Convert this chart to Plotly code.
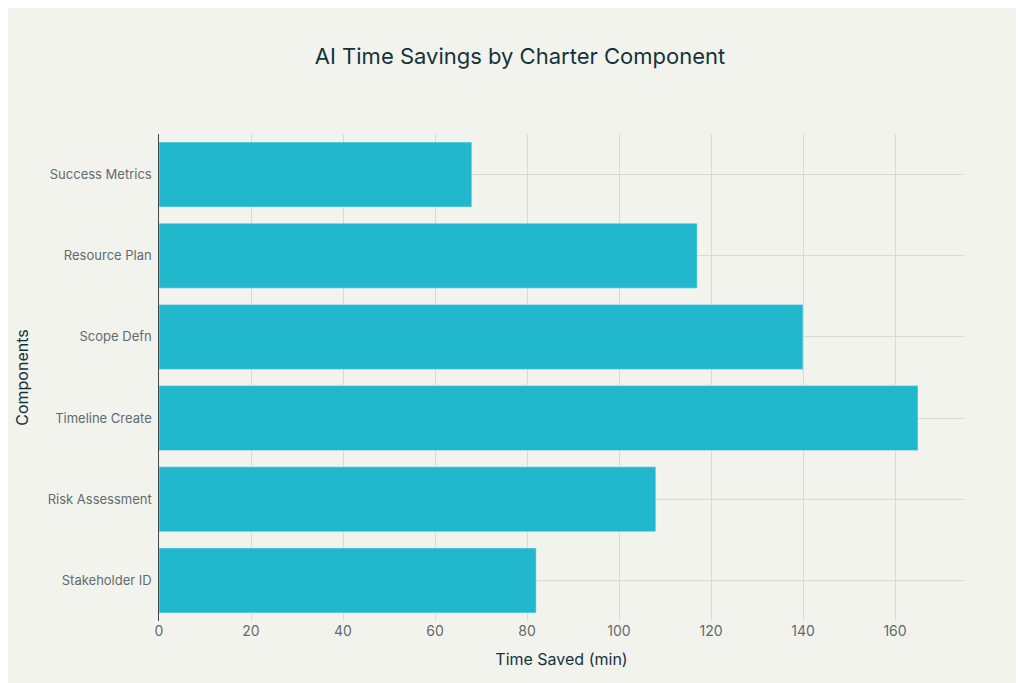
import plotly.graph_objects as go

components = ["Stakeholder ID", "Risk Assessment", "Timeline Create", "Scope Defn", "Resource Plan", "Success Metrics"]
time_saved = [82, 108, 165, 140, 117, 68]

fig = go.Figure(go.Bar(
    x=time_saved, y=components, orientation="h",
    marker_color="#21B8CD", width=0.8,
))

fig.update_layout(
    title=dict(text="AI Time Savings by Charter Component", x=0.5, y=0.94,
               font=dict(size=22, color="#13343B", family="Inter")),
    paper_bgcolor="#F3F3EE", plot_bgcolor="#F3F3EE",
    font=dict(family="Inter", color="#5f6b6d", size=13),
    width=1024, height=683,
    margin=dict(l=151, r=68, t=126, b=70),
    showlegend=False,
)
fig.update_xaxes(title=dict(text="Time Saved (min)", font=dict(size=16, color="#13343B")),
                 range=[0, 175], dtick=20, gridcolor="#d8d8d4", zeroline=False,
                 showline=False, tickfont=dict(size=14))
fig.update_yaxes(title=dict(text="Components", font=dict(size=16, color="#13343B")),
                 gridcolor="#d8d8d4", showline=True, linecolor="#444", ticks="",
                 ticksuffix=" ")

fig.write_html("out.html")
